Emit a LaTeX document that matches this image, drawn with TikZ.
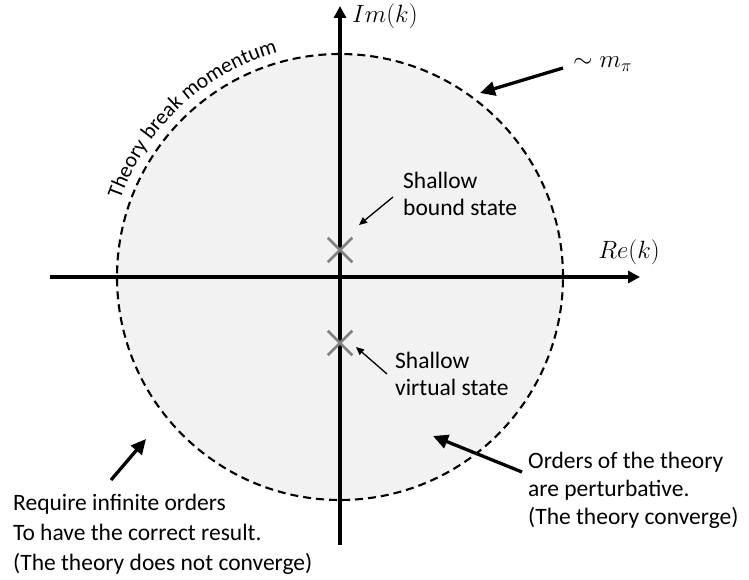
\documentclass[tikz,border=0pt]{standalone}
\usepackage{fix-cm}
\usepackage{fontspec}
\setmainfont{Carlito}
\usetikzlibrary{arrows.meta,decorations.text,shapes.misc}
\definecolor{diskfill}{HTML}{F2F2F2}
\definecolor{crossgray}{HTML}{808080}
\begin{document}
\begin{tikzpicture}[x=1pt,y=1pt,
  disk/.style={circle,draw=black,fill=diskfill,line width=2.1pt,dash pattern=on 8pt off 5pt,minimum size=446pt,inner sep=0pt},
  axis/.style={line width=3.5pt,-{Triangle[length=12pt,width=12pt]}},
  pole/.style={cross out,draw=crossgray,line width=2.5pt,minimum size=22pt,inner sep=0pt},
  lbl/.style={font=\fontsize{23.5}{27}\selectfont,inner sep=0pt,align=left},
  mlbl/.style={font=\fontsize{25}{29}\selectfont,inner sep=0pt},
  bigarrow/.style={line width=3.3pt,-{Triangle[length=15pt,width=14pt]}},
  smallarrow/.style={line width=1.3pt,-{Triangle[length=8pt,width=7pt]}}]
\useasboundingbox (0,0) rectangle (749,579);
% disk
\node[disk] (dk) at (340,302) {};
\path[decorate,decoration={text along path,text align=center,
  text={|\fontsize{21.5}{26}\selectfont|Theory break momentum}}]
  (340,302) ++(165:233) arc[start angle=165,end angle=101,radius=233];
% axes
\coordinate (xl) at (50,302);
\coordinate (xr) at (640,302);
\coordinate (yb) at (340,34);
\coordinate (yt) at (340,573);
\draw[axis] (xl) -- (xr);
\draw[axis] (yb) -- (yt);
\node[mlbl,anchor=west] (im) at (352,563) {$Im(k)$};
\node[mlbl] (re) at (629,327) {$Re(k)$};
% poles
\node[pole] (bound) at (340,329) {};
\node[pole] (virtual) at (340,236) {};
% labels
\node[lbl,anchor=west] (tb) at (403,385) {Shallow\\bound state};
\node[lbl,anchor=west] (tv) at (395,205) {Shallow\\virtual state};
\node[font=\fontsize{23.5}{28}\selectfont,inner sep=0pt,align=left,anchor=west] (to) at (528,89) {Orders of the theory\\are perturbative.\\(The theory converge)};
\node[font=\fontsize{23.5}{30}\selectfont,inner sep=0pt,align=left,anchor=west] (tr) at (13,45) {Require infinite orders\\To have the correct result.\\(The theory does not converge)};
\node[mlbl,anchor=west] (mpi) at (573,515) {$\sim m_\pi$};
% arrow ends
\coordinate (a1s) at (393,382); \coordinate (a1e) at (359,354);
\coordinate (a2s) at (387,205); \coordinate (a2e) at (356,232);
\coordinate (a3s) at (563,511); \coordinate (a3e) at (480,486);
\coordinate (a4s) at (522,107); \coordinate (a4e) at (433,143);
\coordinate (a5s) at (111,99);  \coordinate (a5e) at (146,140);
\draw[smallarrow] (a1s) -- (a1e);
\draw[smallarrow] (a2s) -- (a2e);
\draw[bigarrow] (a3s) -- (a3e);
\draw[bigarrow] (a4s) -- (a4e);
\draw[bigarrow] (a5s) -- (a5e);
\end{tikzpicture}
\end{document}
